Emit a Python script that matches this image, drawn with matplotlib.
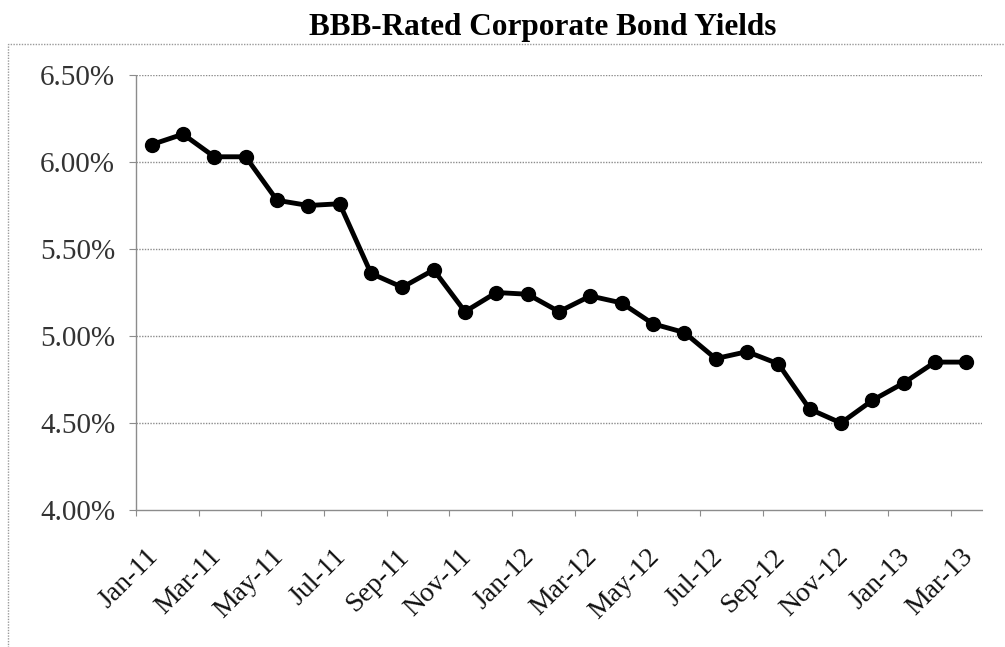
import matplotlib
matplotlib.use("Agg")
import matplotlib.pyplot as plt
from matplotlib.patches import Rectangle
import matplotlib.transforms as mtransforms

months = ["Jan-11", "Feb-11", "Mar-11", "Apr-11", "May-11", "Jun-11", "Jul-11",
          "Aug-11", "Sep-11", "Oct-11", "Nov-11", "Dec-11", "Jan-12", "Feb-12",
          "Mar-12", "Apr-12", "May-12", "Jun-12", "Jul-12", "Aug-12", "Sep-12",
          "Oct-12", "Nov-12", "Dec-12", "Jan-13", "Feb-13", "Mar-13"]
yields = [6.10, 6.16, 6.03, 6.03, 5.78, 5.75, 5.76, 5.36, 5.28, 5.38, 5.14,
          5.25, 5.24, 5.14, 5.23, 5.19, 5.07, 5.02, 4.87, 4.91, 4.84, 4.58,
          4.50, 4.63, 4.73, 4.85, 4.85]
y_ticks = [4.00, 4.50, 5.00, 5.50, 6.00, 6.50]
y_tick_labels = ["4.00%", "4.50%", "5.00%", "5.50%", "6.00%", "6.50%"]
title = "BBB-Rated Corporate Bond Yields"

plt.rcParams['font.family'] = ['Liberation Serif', 'DejaVu Serif']

W, H = 1005, 647
fig = plt.figure(figsize=(W / 100, H / 100), dpi=100)
fig.patch.set_facecolor('white')

# chart area border
fig.patches.append(Rectangle((8 / W, -0.05), 1.2, 1 - 44 / H + 0.05,
                             transform=fig.transFigure, fill=False,
                             edgecolor='#9a9a9a', linewidth=1,
                             linestyle=(0, (1, 1))))

ax = fig.add_axes([136 / W, 1 - 510 / H, (982 - 136) / W, (510 - 75) / H])
x = list(range(len(months)))
ax.plot(x, yields, color='black', linewidth=3.5, marker='o', markersize=10,
        markerfacecolor='black', markeredgecolor='black', zorder=3)

ax.set_xlim(-0.5, len(months) - 0.5)
ax.set_ylim(4.0, 6.5)
ax.set_yticks(y_ticks)
ax.set_yticklabels(y_tick_labels)

grid_style = dict(color='#8c8c8c', linewidth=1, linestyle=(0, (1, 1)))
for v in y_ticks[1:]:
    ax.axhline(v, zorder=1, **grid_style)

for side in ['top', 'right']:
    ax.spines[side].set_visible(False)
for side in ['left', 'bottom']:
    ax.spines[side].set_color('#8c8c8c')
    ax.spines[side].set_linewidth(1)
    ax.spines[side].set_linestyle((0, (1, 1)))

# x ticks: marks between categories every 2, labels every 2 categories
ax.set_xticks([i - 0.5 for i in range(0, len(months) + 1, 2)])
ax.set_xticks(x[::2], minor=True)
ax.set_xticklabels([])
ax.set_xticklabels(months[::2], minor=True, rotation=45, ha='right',
                   va='center', rotation_mode='anchor', fontsize=20,
                   color='#111111')
ax.tick_params(axis='x', which='major', length=4, color='#8c8c8c', direction='out')
ax.tick_params(axis='x', which='minor', length=0, pad=31)
ax.tick_params(axis='y', length=5, color='#8c8c8c', pad=10, labelsize=21,
               labelcolor='#333333')

offset = mtransforms.ScaledTranslation(3 / 100, 0, fig.dpi_scale_trans)
for lbl in ax.get_xticklabels(minor=True):
    lbl.set_transform(lbl.get_transform() + offset)

fig.text(543 / W, 1 - 35 / H, title, ha='center', va='baseline',
         fontsize=22.5, fontweight='bold', color='black')

fig.savefig('out.png', dpi=100)
